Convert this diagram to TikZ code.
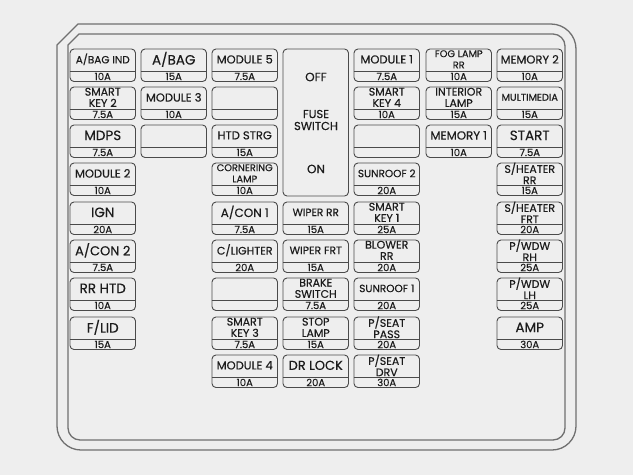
\documentclass[tikz,border=0pt]{standalone}
\usepackage{fontspec}
\setmainfont{Poppins}[FakeBold=0.35]
\definecolor{bgc}{HTML}{EEEEEE}
\definecolor{boxc}{HTML}{4A4A4A}
\definecolor{brdc}{HTML}{707070}
\definecolor{txtc}{HTML}{1C1C1C}
\tikzset{
  fbox/.style={draw=boxc, line width=0.9pt, rounded corners=4pt, minimum width=65.5pt, minimum height=32.5pt, inner sep=0pt, fill=bgc},
  fline/.style={draw=boxc, line width=0.9pt},
  lbl/.style={inner sep=0pt, align=center, text=txtc},
  amp/.style={inner sep=0pt, text=txtc, font=\fontsize{10}{10}\selectfont},
  brd/.style={draw=brdc, line width=1.3pt},
}
% #1 name, #2 x left, #3 y top, #4 font size, #5 label, #6 amp
\newcommand\fz[6]{%
  \node[fbox] (#1) at (#2+32.75, #3+16.25) {};
  \draw[fline] ([yshift=11pt]#1.south west) -- ([yshift=11pt]#1.south east);
  \node[lbl, font=\fontsize{#4}{11.3}\selectfont] (#1-l) at ([yshift=-10.8pt]#1.north) {#5};
  \node[amp] (#1-a) at ([yshift=5.5pt]#1.south) {#6};
}
\newcommand\fe[3]{%
  \node[fbox] (#1) at (#2+32.75, #3+16.25) {};
  \draw[fline] ([yshift=11pt]#1.south west) -- ([yshift=11pt]#1.south east);
}
\begin{document}
\begin{tikzpicture}[x=1pt, y=-1pt]
\fill[bgc] (0,0) rectangle (633,475);
\useasboundingbox (0,0) rectangle (633,475);
% outer border
\draw[brd] (57,45) -- (78,24) -- (551,24)
  .. controls (564.8,24) and (576,35.2) .. (576,49)
  -- (576,426) .. controls (576,439.3) and (565.3,450) .. (552,450)
  -- (81,450) .. controls (67.7,450) and (57,439.3) .. (57,426) -- cycle;
% inner border
\draw[brd] (68,45) -- (79,34) -- (553,34)
  .. controls (559.6,34) and (565,39.4) .. (565,46)
  -- (565,428) .. controls (565,434.6) and (559.6,440) .. (553,440)
  -- (80,440) .. controls (73.4,440) and (68,434.6) .. (68,428) -- cycle;
% fuse switch
\node[fbox, minimum height=147pt] (sw) at (283+32.75, 49+73.5) {};
\node[lbl, font=\fontsize{12}{13}\selectfont] (sw-off) at (316,77) {OFF};
\node[lbl, font=\fontsize{11.5}{12}\selectfont] (sw-fs) at (316,120) {FUSE\\SWITCH};
\node[lbl, font=\fontsize{12}{13}\selectfont] (sw-on) at (316,169) {ON};
% row 1
\fz{a1}{70}{49}{10.5}{A/BAG IND}{10A}
\fz{b1}{141}{49}{13.5}{A/BAG}{15A}
\fz{c1}{212}{49}{11.5}{MODULE 5}{7.5A}
\fz{e1}{354}{49}{11.5}{MODULE 1}{7.5A}
\fz{f1}{426}{49}{9.8}{FOG LAMP\\RR}{10A}
\fz{g1}{497}{49}{11.5}{MEMORY 2}{10A}
% row 2
\fz{a2}{70}{87}{11}{SMART\\KEY 2}{7.5A}
\fz{b2}{141}{87}{11.5}{MODULE 3}{10A}
\fe{c2}{212}{87}
\fz{e2}{354}{87}{11}{SMART\\KEY 4}{10A}
\fz{f2}{426}{87}{11}{INTERIOR\\LAMP}{15A}
\fz{g2}{497}{87}{9.8}{MULTIMEDIA}{15A}
% row 3
\fz{a3}{70}{125}{13.5}{MDPS}{7.5A}
\fe{b3}{141}{125}
\fz{c3}{212}{125}{11.5}{HTD STRG}{15A}
\fe{e3}{354}{125}
\fz{f3}{426}{125}{11.8}{MEMORY 1}{10A}
\fz{g3}{497}{125}{13.5}{START}{7.5A}
% row 4
\fz{a4}{70}{163}{11.5}{MODULE 2}{10A}
\fz{c4}{212}{163}{9.8}{CORNERING\\LAMP}{10A}
\fz{e4}{354}{163}{10.5}{SUNROOF 2}{20A}
\fz{g4}{497}{163}{11}{S/HEATER\\RR}{15A}
% row 5
\fz{a5}{70}{202}{13.5}{IGN}{20A}
\fz{c5}{212}{202}{12}{A/CON 1}{7.5A}
\fz{d5}{283}{202}{10.5}{WIPER RR}{15A}
\fz{e5}{354}{202}{11}{SMART\\KEY 1}{25A}
\fz{g5}{497}{202}{11}{S/HEATER\\FRT}{20A}
% row 6
\fz{a6}{70}{240}{13}{A/CON 2}{7.5A}
\fz{c6}{212}{240}{11}{C/LIGHTER}{20A}
\fz{d6}{283}{240}{10.8}{WIPER FRT}{15A}
\fz{e6}{354}{240}{11}{BLOWER\\RR}{20A}
\fz{g6}{497}{240}{11}{P/WDW\\RH}{25A}
% row 7
\fz{a7}{70}{278}{13.5}{RR HTD}{10A}
\fe{c7}{212}{278}
\fz{d7}{283}{278}{11}{BRAKE\\SWITCH}{7.5A}
\fz{e7}{354}{278}{10.5}{SUNROOF 1}{20A}
\fz{g7}{497}{278}{11}{P/WDW\\LH}{25A}
% row 8
\fz{a8}{70}{317}{13.5}{F/LID}{15A}
\fz{c8}{212}{317}{11}{SMART\\KEY 3}{7.5A}
\fz{d8}{283}{317}{11}{STOP\\LAMP}{15A}
\fz{e8}{354}{317}{11}{P/SEAT\\PASS}{20A}
\fz{g8}{497}{317}{13.5}{AMP}{30A}
% row 9
\fz{c9}{212}{355}{11.5}{MODULE 4}{10A}
\fz{d9}{283}{355}{13}{DR LOCK}{20A}
\fz{e9}{354}{355}{11}{P/SEAT\\DRV}{30A}
\end{tikzpicture}
\end{document}
